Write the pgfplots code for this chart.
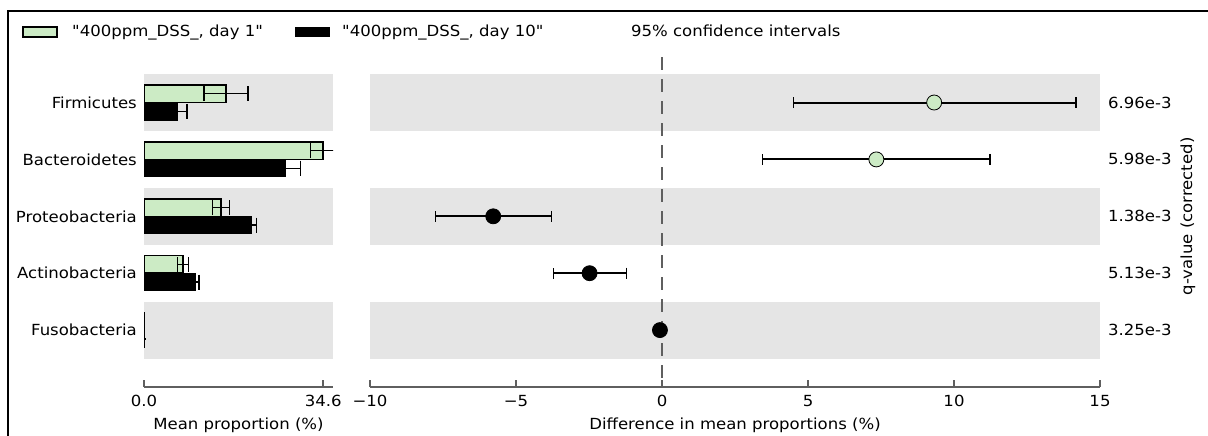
\documentclass[border=0pt]{standalone}
\usepackage{pgfplots}
\pgfplotsset{compat=1.18}
\usepackage{fontspec}
\setmainfont{DejaVu Sans}[Ligatures=TeXOff, FakeStretch=1.08]
\definecolor{lgreen}{RGB}{204,235,197}
\definecolor{band}{RGB}{229,229,229}
\definecolor{spine}{RGB}{95,95,95}

\begin{document}
\fontsize{15.3bp}{18bp}\selectfont
\begin{tikzpicture}
\useasboundingbox (0,0) rectangle (1208bp,436bp);
% frame
\draw[line width=2.5bp] (8bp,0) -- (8bp,425bp) -- (1208bp,425bp);
% legend
\draw[line width=2bp, fill=lgreen] (23bp,399bp) rectangle (57bp,409bp);
\node[anchor=base west, inner sep=0pt] at (72bp,399bp) {"400ppm\_DSS\_, day 1"};
\fill (295bp,399bp) rectangle (330bp,409bp);
\node[anchor=base west, inner sep=0pt] at (342bp,399bp) {"400ppm\_DSS\_, day 10"};
\node[anchor=base west, inner sep=0pt] at (631bp,399bp) {95\% confidence intervals};

% left: mean proportions
\begin{axis}[
    at={(144bp,49bp)}, anchor=south west, scale only axis,
    width=189bp, height=330bp,
    xmin=0, xmax=36.5, ymin=-1, ymax=4.8,
    axis x line*=bottom, axis y line*=left,
    y axis line style={draw=none},
    x axis line style={spine, line width=2bp, -},
    xtick={0,34.6}, xticklabels={0.0,34.6},
    ytick={0,1,2,3,4},
    yticklabels={Fusobacteria,Actinobacteria,Proteobacteria,Bacteroidetes,Firmicutes},
    tick align=inside, major tick length=7bp,
    xtick style={spine, line width=1.5bp},
    ytick style={draw=none},
    xticklabel style={anchor=base, yshift=-20bp},
    yticklabel style={anchor=east, inner sep=0pt, xshift=0bp},
    xlabel={Mean proportion (\%)},
    xlabel style={at={(axis description cs:0.5,0)}, anchor=base, yshift=-42bp},
    xbar, bar width=17.5bp,
]
\fill[band] (axis cs:0,3.5) rectangle (axis cs:36.5,4.5);
\fill[band] (axis cs:0,1.5) rectangle (axis cs:36.5,2.5);
\fill[band] (axis cs:0,-0.5) rectangle (axis cs:36.5,0.5);
% day 1
\addplot[fill=lgreen, draw=black, line width=1.5bp, bar shift=8.8bp,
    error bars/.cd, x dir=both, x explicit, error mark=|,
    error bar style={line width=1.4bp, black},
    error mark options={line width=1.4bp, mark size=7.5bp}]
    coordinates {(15.8,4) +- (4.25,0) (34.6,3) +- (2.5,0) (14.9,2) +- (1.65,0)
                 (7.5,1) +- (1.05,0) (0.05,0) +- (0.02,0)};
% day 10
\addplot[fill=black, draw=black, line width=1bp, bar shift=-8.8bp,
    error bars/.cd, x dir=both, x explicit, error mark=|,
    error bar style={line width=1.4bp, black},
    error mark options={line width=1.4bp, mark size=7.5bp}]
    coordinates {(6.4,4) +- (1.9,0) (27.3,3) +- (2.9,0) (20.7,2) +- (1.0,0)
                 (10.0,1) +- (0.6,0) (0.1,0) +- (0.05,0)};
\end{axis}

% right: difference in mean proportions
\begin{axis}[
    at={(370bp,49bp)}, anchor=south west, scale only axis,
    width=730bp, height=330bp,
    xmin=-10, xmax=15, ymin=-1, ymax=4.8,
    axis x line*=bottom, axis y line*=right,
    y axis line style={draw=none},
    x axis line style={spine, line width=2bp, -},
    xtick={-10,-5,0,5,10,15}, xticklabels={−10,−5,0,5,10,15},
    ytick={0,1,2,3,4},
    yticklabels={3.25e-3,5.13e-3,1.38e-3,5.98e-3,6.96e-3},
    yticklabel pos=right,
    tick align=inside, major tick length=7bp,
    xtick style={spine, line width=1.5bp},
    ytick style={draw=none},
    xticklabel style={anchor=base, yshift=-20bp},
    yticklabel style={anchor=west, inner sep=0pt, xshift=8bp},
    xlabel={Difference in mean proportions (\%)},
    xlabel style={at={(axis description cs:0.5,0)}, anchor=base, yshift=-42bp},
    ylabel={q-value (corrected)},
    ylabel style={at={(axis description cs:1.1205,0.517)}, anchor=center},
]
\fill[band] (axis cs:-10,3.5) rectangle (axis cs:15,4.5);
\fill[band] (axis cs:-10,1.5) rectangle (axis cs:15,2.5);
\fill[band] (axis cs:-10,-0.5) rectangle (axis cs:15,0.5);
\draw[spine, line width=2bp, dash pattern=on 13bp off 9bp] (axis cs:0,4.8) -- (axis cs:0,-1);
% day 1 higher
\addplot[only marks, mark=*, mark size=7.5bp, line width=2bp,
    mark options={fill=lgreen, draw=black, line width=0.8bp},
    error bars/.cd, x dir=both, x explicit, error mark=|,
    error bar style={line width=2bp, black},
    error mark options={line width=1.5bp, mark size=5.5bp}]
    coordinates {(9.32,4) += (4.86,0) -= (4.82,0) (7.34,3) += (3.89,0) -= (3.89,0)};
% day 10 higher
\addplot[only marks, mark=*, mark size=7.5bp, line width=2bp,
    mark options={fill=black, draw=black, line width=0.8bp},
    error bars/.cd, x dir=both, x explicit, error mark=|,
    error bar style={line width=2bp, black},
    error mark options={line width=1.5bp, mark size=5.5bp}]
    coordinates {(-5.78,2) += (2.00,0) -= (1.97,0) (-2.48,1) += (1.27,0) -= (1.24,0)
                 (-0.07,0) += (0.02,0) -= (0.02,0)};
\end{axis}
\end{tikzpicture}
\end{document}
